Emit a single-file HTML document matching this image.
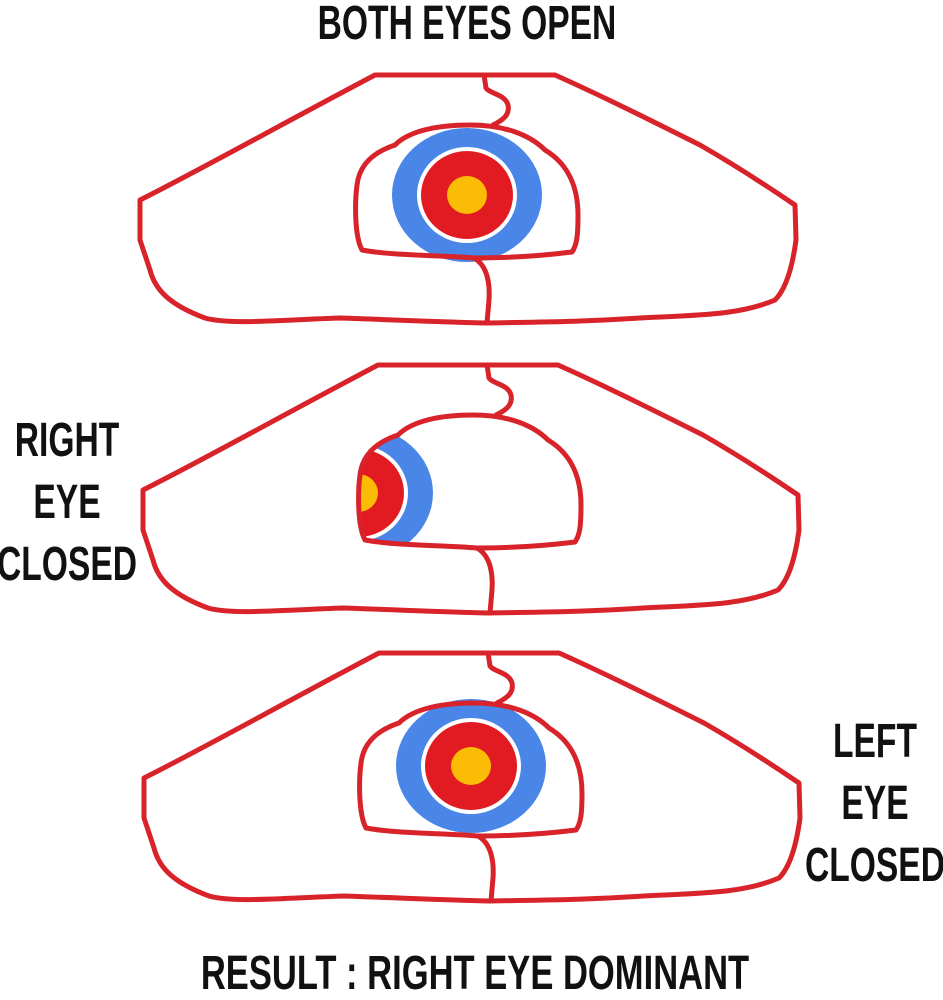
<!DOCTYPE html>
<html><head><meta charset="utf-8"><style>
html,body{margin:0;padding:0;background:#fff;}
svg{display:block}
text{font-family:"Liberation Sans",sans-serif;font-weight:bold;fill:#111;}
</style></head><body>
<svg width="943" height="1000" viewBox="0 0 943 1000" xmlns="http://www.w3.org/2000/svg">
<defs>
  <clipPath id="holeclip">
    <path d="M474,258 C440,255 395,256 362,250 C354,235 355,200 357,185 C360,160 380,150 395,145 C410,130 440,125 470,125 C505,125 530,135 545,150 C570,165 578,190 578,215 C578,235 577,245 572,252 C540,256 510,258 474,258 Z" transform="translate(0,290)"/>
  </clipPath>
  <g id="hand">
    <path d="M375,75 L555,75 C600,95 650,120 700,145 C740,168 770,188 795,205 L796,240 C792,270 785,290 775,300 C740,315 700,315 640,318 C580,322 540,322 487,323 C440,322 400,320 340,318 C280,320 230,325 205,318 C170,305 155,290 150,270 L140,240 L140,200 C200,170 280,125 375,75 Z" fill="none" stroke="#d8232a" stroke-width="5" stroke-linejoin="round"/>
    <path d="M484,75 L486,88 C490,94 505,94 508,105 C510,115 503,120 493,125" fill="none" stroke="#d8232a" stroke-width="5" stroke-linecap="round"/>
    <path d="M474,258 C440,255 395,256 362,250 C354,235 355,200 357,185 C360,160 380,150 395,145 C410,130 440,125 470,125 C505,125 530,135 545,150 C570,165 578,190 578,215 C578,235 577,245 572,252 C540,256 510,258 474,258 Z" fill="none" stroke="#d8232a" stroke-width="5" stroke-linejoin="round"/>
    <path d="M474,258 C488,266 490,285 489,300 L487,323" fill="none" stroke="#d8232a" stroke-width="5" stroke-linecap="round"/>
  </g>
  <g id="target">
    <ellipse cx="0" cy="0" rx="75" ry="67" fill="#4a86e8"/>
    <ellipse cx="0" cy="0" rx="50" ry="48" fill="#fff"/>
    <ellipse cx="0" cy="0" rx="46" ry="44" fill="#e21b23"/>
    <ellipse cx="0" cy="0" rx="20" ry="19" fill="#fbbc05"/>
  </g>
</defs>

<!-- Panel 1 -->
<use href="#target" transform="translate(467,195)"/>
<use href="#hand"/>

<!-- Panel 2 -->
<g clip-path="url(#holeclip)" transform="translate(3,0)">
  <use href="#target" transform="translate(355,493)"/>
</g>
<use href="#hand" transform="translate(3,290)"/>

<!-- Panel 3 -->
<use href="#target" transform="translate(471,766)"/>
<use href="#hand" transform="translate(4,578)"/>

<text x="467" y="39" font-size="48" text-anchor="middle" transform="translate(467,0) scale(0.7,1) translate(-467,0)">BOTH EYES OPEN</text>

<g font-size="48" text-anchor="middle">
<text x="67" y="456" transform="translate(67,0) scale(0.7,1) translate(-67,0)">RIGHT</text>
<text x="67" y="518" transform="translate(67,0) scale(0.7,1) translate(-67,0)">EYE</text>
<text x="67" y="580" transform="translate(67,0) scale(0.7,1) translate(-67,0)">CLOSED</text>
<text x="875" y="757" transform="translate(875,0) scale(0.7,1) translate(-875,0)">LEFT</text>
<text x="875" y="819" transform="translate(875,0) scale(0.7,1) translate(-875,0)">EYE</text>
<text x="875" y="881" transform="translate(875,0) scale(0.7,1) translate(-875,0)">CLOSED</text>
</g>

<text x="475" y="989" font-size="48" text-anchor="middle" transform="translate(475,0) scale(0.72,1) translate(-475,0)">RESULT : RIGHT EYE DOMINANT</text>
</svg>
</body></html>
